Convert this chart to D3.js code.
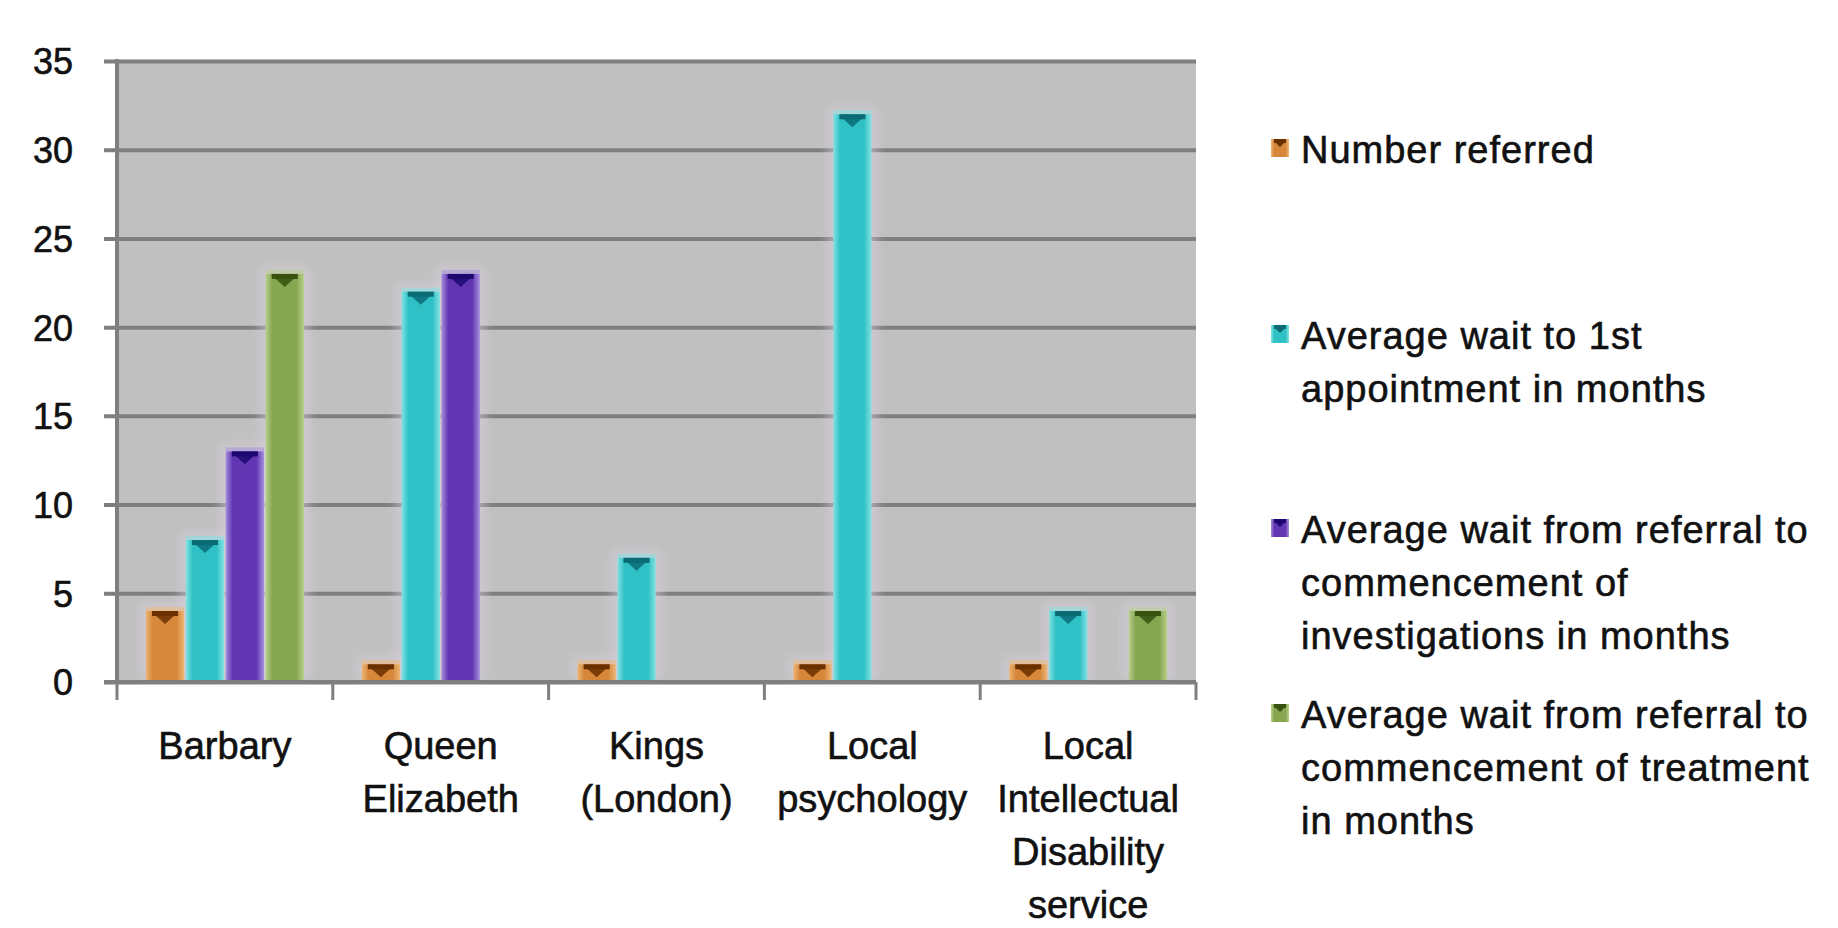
<!DOCTYPE html>
<html>
<head>
<meta charset="utf-8">
<script src="https://cdn.jsdelivr.net/npm/d3@7"></script>
<style>
  html, body { margin: 0; padding: 0; background: #ffffff; }
  svg { display: block; }
  text { font-family: "Liberation Sans", Arial, sans-serif; fill: #111; stroke: #111; stroke-width: 0.6px; }
</style>
</head>
<body>
<svg id="chart" width="1838" height="928"></svg>
<script>
// Services and the lines each axis label is broken into
const categories = ["Barbary", "Queen Elizabeth", "Kings (London)", "Local psychology", "Local Intellectual Disability service"];
const categoryLines = [["Barbary"], ["Queen", "Elizabeth"], ["Kings", "(London)"], ["Local", "psychology"], ["Local", "Intellectual", "Disability", "service"]];

// Series (null = no bar)
const seriesKeys = ["referred", "firstAppt", "investigations", "treatment"];
const numberReferred      = [4, 1, 1, 1, 1];
const waitFirstAppt       = [8, 22, 7, 32, 4];
const waitInvestigations  = [13, 23, null, null, null];
const waitTreatment       = [23, null, null, null, 4];

const legendLines = [
  ["Number referred"],
  ["Average wait to 1st", "appointment in months"],
  ["Average wait from referral to", "commencement of", "investigations in months"],
  ["Average wait from referral to", "commencement of treatment", "in months"]
];

const yTicks = [0, 5, 10, 15, 20, 25, 30, 35];

// Colour styling for each series: edge highlight, body, top cap
const palette = {
  referred:       { light: "#EDB676", base: "#D6873A", cap: "#6A3000" },
  firstAppt:      { light: "#84E2E2", base: "#2FC1C5", cap: "#0A6B75" },
  investigations: { light: "#A58EDC", base: "#6236B2", cap: "#1C0870" },
  treatment:      { light: "#B8D08C", base: "#86A650", cap: "#36520E" }
};

const values = { referred: numberReferred, firstAppt: waitFirstAppt, investigations: waitInvestigations, treatment: waitTreatment };

const svg = d3.select("#chart");
const plot = { left: 117, right: 1196, top: 61, bottom: 682 };
const gridColor = "#7F7F7F";

const x = d3.scaleBand().domain(categories).range([plot.left, plot.right]).padding(0);
const groupWidth = 158;
const xs = d3.scaleBand().domain(seriesKeys).range([0, groupWidth]).paddingInner(0.04).paddingOuter(0);
const y = d3.scaleLinear().domain([0, 35]).range([plot.bottom, plot.top]);

// gradients
const defs = svg.append("defs");
seriesKeys.forEach(k => {
  const c = palette[k];
  const g = defs.append("linearGradient").attr("id", "grad-" + k).attr("x1", 0).attr("x2", 1).attr("y1", 0).attr("y2", 0);
  [[0, c.light], [0.18, c.base], [0.5, c.base], [0.8, c.base], [1, c.light]].forEach(([o, col]) =>
    g.append("stop").attr("offset", o).attr("stop-color", col));
});
const glow = defs.append("filter").attr("id", "glow").attr("x", "-50%").attr("y", "-50%").attr("width", "200%").attr("height", "200%");
glow.append("feGaussianBlur").attr("stdDeviation", 5);

// plot background
svg.append("rect")
  .attr("x", plot.left).attr("y", plot.top)
  .attr("width", plot.right - plot.left).attr("height", plot.bottom - plot.top)
  .attr("fill", "#C0C0C0");

// y axis with gridlines extending across the plot
const tickOut = 13;
const yAxis = d3.axisLeft(y).tickValues(yTicks).tickSize(-(plot.right - plot.left + tickOut)).tickPadding(31).tickFormat(d3.format("d"));
const gy = svg.append("g").attr("transform", `translate(${plot.left - tickOut},0)`).call(yAxis);
gy.select(".domain").remove();
gy.selectAll(".tick line").attr("stroke", gridColor).attr("stroke-width", 4);
gy.selectAll(".tick text").attr("font-size", 36).attr("fill", "#111").attr("dy", "0.36em");

// bars
const barW = xs.bandwidth();
const groupOffset = (x.bandwidth() - groupWidth) / 2;
const barData = [];
categories.forEach((c, i) => {
  seriesKeys.forEach(k => {
    const v = values[k][i];
    if (v !== null && v !== undefined) barData.push({ c, k, v });
  });
});

const bars = svg.append("g");
const bx = d => x(d.c) + groupOffset + xs(d.k);

// soft halo behind each bar
bars.selectAll("rect.halo").data(barData).join("rect")
  .attr("class", "halo")
  .attr("x", d => bx(d) - 6).attr("y", d => y(d.v) - 8)
  .attr("width", barW + 12).attr("height", d => y(0) - y(d.v) + 6)
  .attr("fill", "#DCD2E0").attr("opacity", 0.45).attr("filter", "url(#glow)");

bars.selectAll("rect.bar").data(barData).join("rect")
  .attr("class", "bar")
  .attr("x", bx).attr("y", d => y(d.v))
  .attr("width", barW).attr("height", d => y(0) - y(d.v))
  .attr("fill", d => `url(#grad-${d.k})`);

// light rim just above the top
bars.selectAll("rect.rim").data(barData).join("rect")
  .attr("class", "rim")
  .attr("x", bx).attr("y", d => y(d.v) - 4)
  .attr("width", barW).attr("height", 4)
  .attr("fill", d => palette[d.k].light).attr("opacity", 0.55);

// dark cap band and downward notch at the top of each bar
bars.selectAll("rect.cap").data(barData).join("rect")
  .attr("class", "cap")
  .attr("x", d => bx(d) + barW * 0.16).attr("y", d => y(d.v))
  .attr("width", barW * 0.68).attr("height", 5)
  .attr("fill", d => palette[d.k].cap);
bars.selectAll("path.notch").data(barData).join("path")
  .attr("class", "notch")
  .attr("d", d => {
    const cx = bx(d) + barW / 2, t = y(d.v) + 4;
    return `M${cx - barW * 0.26},${t} L${cx + barW * 0.26},${t} L${cx},${t + 9} Z`;
  })
  .attr("fill", d => palette[d.k].cap).attr("opacity", 0.85);

// axis lines
svg.append("line").attr("x1", plot.left).attr("x2", plot.left).attr("y1", plot.top - 2).attr("y2", plot.bottom + 2)
  .attr("stroke", gridColor).attr("stroke-width", 4);
svg.append("line").attr("x1", plot.left - tickOut).attr("x2", plot.right).attr("y1", plot.bottom).attr("y2", plot.bottom)
  .attr("stroke", gridColor).attr("stroke-width", 4);

// category boundary ticks
const bounds = categories.map(c => x(c)).concat([x.range()[1]]);
svg.append("g").selectAll("line").data(bounds).join("line")
  .attr("x1", d => d).attr("x2", d => d)
  .attr("y1", plot.bottom).attr("y2", plot.bottom + 18)
  .attr("stroke", gridColor).attr("stroke-width", 3);

// category labels
const xAxis = d3.axisBottom(x).tickSize(0).tickPadding(0);
const gx = svg.append("g").attr("transform", `translate(0,${plot.bottom})`).call(xAxis);
gx.select(".domain").remove();
gx.selectAll(".tick text").each(function(d, i) {
  const t = d3.select(this).text(null).attr("font-size", 38).attr("fill", "#111").attr("y", 0).attr("dy", null);
  categoryLines[i].forEach((ln, j) => {
    t.append("tspan").attr("x", 0).attr("y", 77 + j * 53).text(ln);
  });
});

// legend
const legendTop = [150, 336, 530, 715];
const legend = svg.append("g");
seriesKeys.forEach((k, i) => {
  const cy = legendTop[i];
  const g = legend.append("g");
  g.append("rect").attr("x", 1271).attr("y", cy - 11).attr("width", 18).attr("height", 18)
    .attr("fill", `url(#grad-${k})`);
  g.append("rect").attr("x", 1274).attr("y", cy - 11).attr("width", 12).attr("height", 4)
    .attr("fill", palette[k].cap);
  g.append("path").attr("d", `M${1275},${cy - 8} L${1285},${cy - 8} L${1280},${cy - 3} Z`).attr("fill", palette[k].cap);
  const t = g.append("text").attr("font-size", 38).attr("letter-spacing", 1).attr("fill", "#111");
  legendLines[i].forEach((ln, j) => {
    t.append("tspan").attr("x", 1301).attr("y", cy + 13 + j * 53).text(ln);
  });
});
</script>
</body>
</html>
